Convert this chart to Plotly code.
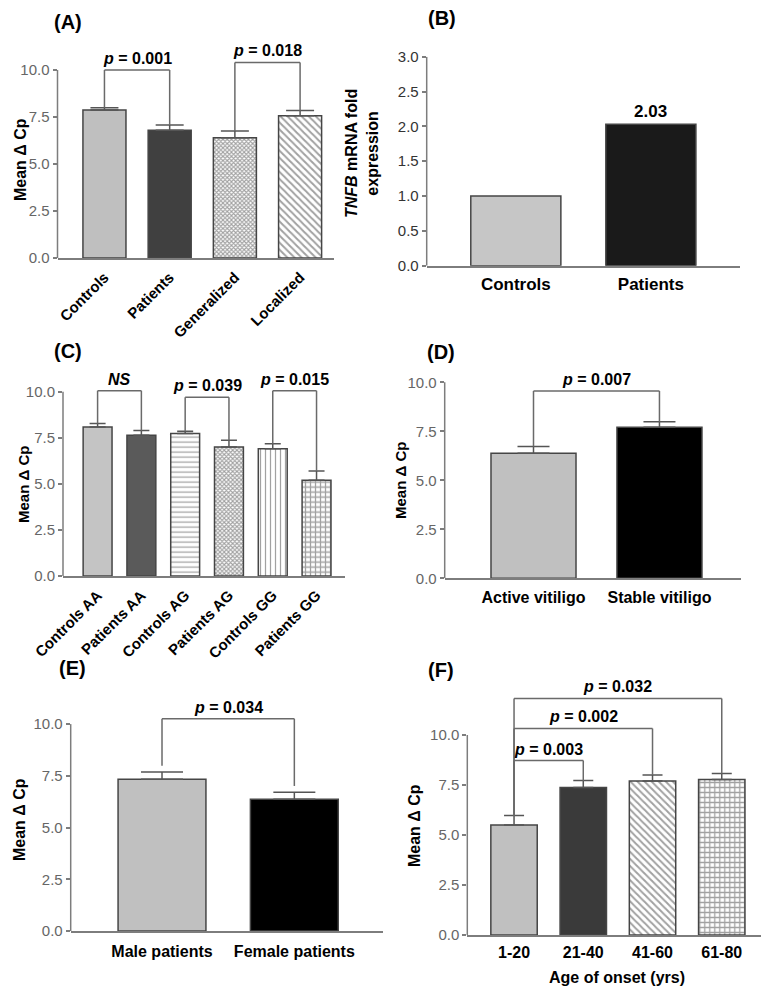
import plotly.graph_objects as go

W, H = 769, 988
OFF = 8  # page body margin of the browser
FW, FH = W - OFF, H - OFF
FONT = "Liberation Sans, Arial, sans-serif"

# ---------------- data ----------------
a_categories = ["Controls", "Patients", "Generalized", "Localized"]
a_means = [7.87, 6.80, 6.40, 7.57]
a_sems = [0.12, 0.28, 0.35, 0.28]
a_brackets = [(0, 1, 10.0, "0.001"), (2, 3, 10.4, "0.018")]

b_categories = ["Controls", "Patients"]
b_fold = [1.0, 2.03]

c_categories = ["Controls AA", "Patients AA", "Controls AG", "Patients AG", "Controls GG", "Patients GG"]
c_means = [8.09, 7.64, 7.73, 7.00, 6.91, 5.20]
c_sems = [0.18, 0.26, 0.12, 0.36, 0.27, 0.50]
c_brackets = [(0, 1, 10.05, "NS"), (2, 3, 9.7, "0.039"), (4, 5, 10.05, "0.015")]

d_categories = ["Active vitiligo", "Stable vitiligo"]
d_means = [6.38, 7.70]
d_sems = [0.34, 0.29]
d_brackets = [(0, 1, 9.56, "0.007")]

e_categories = ["Male patients", "Female patients"]
e_means = [7.34, 6.37]
e_sems = [0.35, 0.34]
e_brackets = [(0, 1, 10.26, "0.034")]

f_categories = ["1-20", "21-40", "41-60", "61-80"]
f_means = [5.50, 7.37, 7.70, 7.78]
f_sems = [0.47, 0.35, 0.30, 0.30]
f_brackets = [(0, 1, 8.72, "0.003"), (0, 2, 10.33, "0.002"), (0, 3, 11.83, "0.032")]

dct_ticks = [0, 2.5, 5, 7.5, 10]
fold_ticks = [0, 0.5, 1.0, 1.5, 2.0, 2.5, 3.0]

# ---------------- styles ----------------
AXIS_GREY = "#7d7d7d"
TICK_GREY = "#666666"
EDGE = "#454545"
BRACKET = "#6a6a6a"

fig = go.Figure()


def fx(p):
    return (p - OFF) / FW


def fy(p):
    return 1 - (p - OFF) / FH


def add_panel(n, cats, vals, sems, fills, shapes, fgs, psizes, solid,
              dom_x, dom_y, yr, xr, bar_w, cap, tickangle, tickfs, yticks,
              standoff, brackets=None, drop_gap=0.0, ytickcolor=TICK_GREY):
    ax = "" if n == 1 else str(n)
    nb = len(cats)
    err = None
    if sems is not None:
        err = dict(type="data", symmetric=False, array=sems, arrayminus=[0] * nb,
                   color="#555555", thickness=1.5, width=cap)
    fig.add_trace(go.Bar(
        x=cats, y=vals, width=bar_w, xaxis="x" + ax, yaxis="y" + ax,
        marker=dict(color=fills, line=dict(color=EDGE, width=1.5),
                    pattern=dict(shape=shapes, fgcolor=fgs, bgcolor="white",
                                 size=psizes, solidity=solid, fillmode="overlay")),
        error_y=err, showlegend=False, hoverinfo="skip"))
    fig.update_layout(**{
        "xaxis" + ax: dict(domain=[fx(dom_x[0]), fx(dom_x[1])], anchor="y" + ax,
                           type="category", range=xr, showline=True, automargin=False,
                           linecolor=AXIS_GREY, linewidth=1.5, ticks="",
                           tickangle=tickangle, ticklabelstandoff=standoff,
                           tickfont=dict(family=FONT, size=tickfs, color="black", weight="bold"),
                           showgrid=False, zeroline=False, fixedrange=True),
        "yaxis" + ax: dict(domain=[fy(dom_y[1]), fy(dom_y[0])], anchor="x" + ax,
                           range=yr, tickmode="array", tickvals=yticks, automargin=False,
                           ticktext=[f"{t:.1f}" for t in yticks],
                           ticks="outside", ticklen=4, tickwidth=1.5, tickcolor=AXIS_GREY,
                           tickfont=dict(family=FONT, size=15, color=ytickcolor),
                           showline=False, showgrid=False, zeroline=False, fixedrange=True),
    })
    xd = ("x" + ax + " domain") if ax else "x domain"
    fig.add_shape(type="line", xref=xd, yref="y" + ax, x0=0, x1=0,
                  y0=yticks[0], y1=yticks[-1], line=dict(color=AXIS_GREY, width=1.5))
    if brackets:
        tops = [v + s for v, s in zip(vals, sems)]
        for i, j, lvl, lab in brackets:
            for k in (i, j):
                fig.add_shape(type="line", xref="x" + ax, yref="y" + ax,
                              x0=k, x1=k, y0=tops[k] + drop_gap, y1=lvl,
                              line=dict(color=BRACKET, width=1.5))
            fig.add_shape(type="line", xref="x" + ax, yref="y" + ax,
                          x0=i, x1=j, y0=lvl, y1=lvl,
                          line=dict(color=BRACKET, width=1.5))
            txt = "<b><i>NS</i></b>" if lab == "NS" else f"<b><i>p</i> = {lab}</b>"
            fig.add_annotation(x=(i + j) / 2, y=lvl, xref="x" + ax, yref="y" + ax,
                               text=txt, showarrow=False, yanchor="bottom", yshift=1,
                               font=dict(family=FONT, size=16, color="black"))


# Panel A
add_panel(1, a_categories, a_means, a_sems,
          ["#bfbfbf", "#404040", "white", "white"],
          ["", "", "x", "\\"], ["#000", "#000", "#333333", "#555555"], [4, 4, 3, 5],
          [0.3, 0.3, 0.6, 0.4],
          (57.5, 334), (41.8, 258), [0, 11.5], [-0.72, 3.52], 0.66, 14,
          -45, 15, dct_ticks, 3, a_brackets)

# Panel B
add_panel(2, b_categories, b_fold, None,
          ["#c6c6c6", "#1a1a1a"], ["", ""], ["#000", "#000"], [4, 4], [0.3, 0.3],
          (426.7, 740), (56.7, 265.7), [0, 3], [-0.66, 1.66], 0.667, 0,
          0, 17, fold_ticks, 2, ytickcolor="#333333")
fig.add_annotation(x=1, y=b_fold[1], xref="x2", yref="y2", text=f"<b>{b_fold[1]:.2f}</b>",
                   showarrow=False, yanchor="bottom", yshift=1,
                   font=dict(family=FONT, size=17, color="black"))

# Panel C
add_panel(3, c_categories, c_means, c_sems,
          ["#c4c4c4", "#5a5a5a", "white", "white", "white", "white"],
          ["", "", "-", "x", "|", "+"],
          ["#000", "#000", "#555555", "#333333", "#555555", "#333333"],
          [4, 4, 5, 3, 5, 5], [0.3, 0.3, 0.25, 0.6, 0.25, 0.45],
          (63, 345), (369.6, 576), [0, 11.2], [-0.79, 5.65], 0.66, 8,
          -45, 15, dct_ticks, 3, c_brackets)

# Panel D
add_panel(4, d_categories, d_means, d_sems,
          ["#c0c0c0", "#000000"], ["", ""], ["#000", "#000"], [4, 4], [0.3, 0.3],
          (444.7, 740.7), (366.6, 578.3), [0, 10.8], [-0.705, 1.645], 0.675, 16,
          0, 16, dct_ticks, 4, d_brackets)

# Panel E
add_panel(5, e_categories, e_means, e_sems,
          ["#c0c0c0", "#000000"], ["", ""], ["#000", "#000"], [4, 4], [0.3, 0.3],
          (70.7, 383), (691, 931), [0, 11.6], [-0.69, 1.67], 0.664, 21,
          0, 16, dct_ticks, 5, e_brackets, drop_gap=0.3)

# Panel F
add_panel(6, f_categories, f_means, f_sems,
          ["#c0c0c0", "#3a3a3a", "white", "white"],
          ["", "", "\\", "+"], ["#000", "#000", "#555555", "#333333"], [4, 4, 5, 5],
          [0.3, 0.3, 0.4, 0.45],
          (467.3, 764), (675, 935), [0, 13], [-0.675, 3.61], 0.67, 10,
          0, 16, dct_ticks, 2, f_brackets)

# ---------------- titles / labels ----------------
def paper_text(x, y, text, size, angle=0):
    fig.add_annotation(x=fx(x), y=fy(y), xref="paper", yref="paper", text=text,
                       showarrow=False, textangle=angle, xanchor="center", yanchor="middle",
                       font=dict(family=FONT, size=size, color="black"))


for lab, (x, y) in zip(["(A)", "(B)", "(C)", "(D)", "(E)", "(F)"],
                       [(68, 22), (442, 18), (68, 351), (441, 352), (72, 668), (441, 670)]):
    paper_text(x, y, f"<b>{lab}</b>", 20)

paper_text(21, 160, "<b>Mean Δ Cp</b>", 16, -90)
paper_text(24, 485, "<b>Mean Δ Cp</b>", 15, -90)
paper_text(400, 481, "<b>Mean Δ Cp</b>", 15, -90)
paper_text(19, 820, "<b>Mean Δ Cp</b>", 16, -90)
paper_text(414, 826, "<b>Mean Δ Cp</b>", 16, -90)
paper_text(362, 154, "<b><i>TNFB</i> mRNA fold<br>expression</b>", 16, -90)
paper_text(617, 977, "<b>Age of onset (yrs)</b>", 16)

fig.update_layout(template="none", width=FW, height=FH, margin=dict(l=0, r=0, t=0, b=0),
                  paper_bgcolor="white", plot_bgcolor="white",
                  font=dict(family=FONT), bargap=0.3)

fig.write_html("out.html")
